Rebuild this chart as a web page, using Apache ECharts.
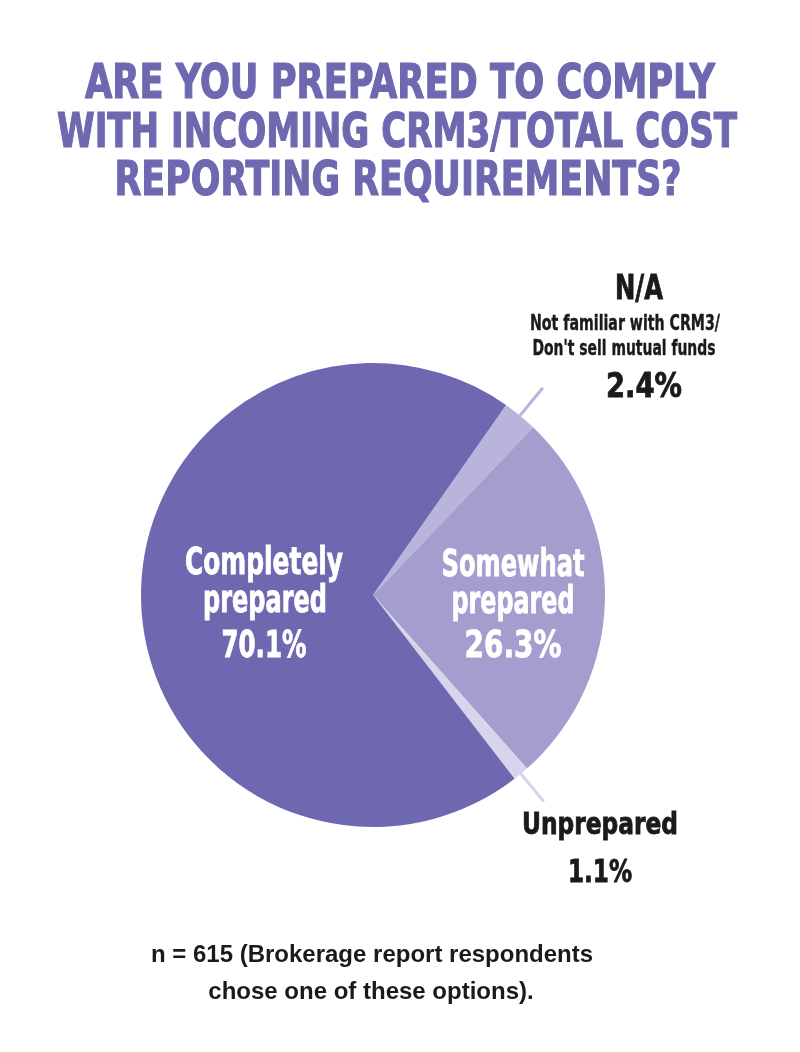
<!DOCTYPE html>
<html>
<head>
<meta charset="utf-8">
<script src="https://cdn.jsdelivr.net/npm/echarts@6/dist/echarts.min.js"></script>
<style>
html, body { margin: 0; padding: 0; background: #ffffff; }
#container { width: 800px; height: 1052px; }
</style>
</head>
<body>
<div id="container"></div>
<script type="text/javascript">
// data
var categories = ['N/A', 'Somewhat prepared', 'Unprepared', 'Completely prepared'];
var shares = [2.4, 26.3, 1.1, 70.1];
var sliceColors = ['#b9b4dc', '#a49ecf', '#d7d4ec', '#6e68b0'];
var titleLines = ['ARE YOU PREPARED TO COMPLY', 'WITH INCOMING CRM3/TOTAL COST', 'REPORTING REQUIREMENTS?'];
var naNote = ['Not familiar with CRM3/', "Don't sell mutual funds"];
var footLines = ['n = 615 (Brokerage report respondents', 'chose one of these options).'];

var condensed = '"DejaVu Sans Condensed", "Liberation Sans Narrow", sans-serif';
var plain = '"Liberation Sans", Arial, sans-serif';
var purple = '#6e68b0';
var ink = '#1a1a1a';

var dom = document.getElementById('container');
var myChart = echarts.init(dom);

// the reference face is a tight, heavy condensed one, so texts get squeezed to
// their width and thickened a little with a stroke of their own colour
var measureCtx = document.createElement('canvas').getContext('2d');
var graphics = [];
function addText(txt, cx, cy, size, width, color, family, weight) {
    var font = 'bold ' + size + 'px ' + (family || condensed);
    var sx = 1;
    if (width) {
        measureCtx.font = font;
        sx = width / measureCtx.measureText(txt).width;
    }
    graphics.push({
        type: 'text',
        x: cx, y: cy,
        scaleX: sx,
        z: 100,
        silent: true,
        style: {
            text: txt,
            fill: color || ink,
            stroke: color || ink,
            lineWidth: weight == null ? 0.8 : weight,
            font: font,
            align: 'center',
            verticalAlign: 'middle'
        }
    });
}
function pct(v) { return v.toFixed(1) + '%'; }

// title
addText(titleLines[0], 400, 86, 48, 630, purple, null, 1.2);
addText(titleLines[1], 397, 135, 48, 680, purple, null, 1.2);
addText(titleLines[2], 398, 183, 48, 567, purple, null, 1.2);

// labels inside the big slices
var w3 = categories[3].split(' ');
addText(w3[0], 264, 564, 37, 158, '#ffffff');
addText(w3[1], 265, 602, 37, 124, '#ffffff');
addText(pct(shares[3]), 264, 647, 37, 85, '#ffffff');
var w1 = categories[1].split(' ');
addText(w1[0], 513, 566, 37, 143, '#ffffff');
addText(w1[1], 513, 603, 37, 123, '#ffffff');
addText(pct(shares[1]), 513, 647, 37, 97, '#ffffff');

// labels outside the small slices
addText(categories[0], 639, 290, 33, 48);
addText(naNote[0], 625, 325, 21, 190, ink, null, 0.4);
addText(naNote[1], 624, 350, 21, 183, ink, null, 0.4);
addText(pct(shares[0]), 644, 388, 33, 76);
addText(categories[2], 600, 826, 31, 156);
addText(pct(shares[2]), 600, 874, 32, 64);

// footnote
addText(footLines[0], 372, 955, 24, null, ink, plain, 0);
addText(footLines[1], 371, 992, 24, null, ink, plain, 0);

var pieData = [];
for (var i = 0; i < categories.length; i++) {
    var small = (i == 0 || i == 2);
    pieData.push({
        name: categories[i],
        value: shares[i],
        itemStyle: { color: sliceColors[i] },
        // small slices only carry a short leader line
        label: { show: small, position: 'outside', formatter: ' ' },
        labelLine: { show: small, length: 36, length2: 0,
                     lineStyle: { color: sliceColors[i], width: 3 } }
    });
}

option = {
    animation: false,
    series: [
        {
            type: 'pie',
            center: [373, 595],
            radius: 232,
            startAngle: 55,
            clockwise: true,
            avoidLabelOverlap: false,
            itemStyle: { borderWidth: 0 },
            emphasis: { disabled: true },
            data: pieData
        }
    ],
    graphic: graphics
};

if (option && typeof option === "object") {
    myChart.setOption(option, true);
}
</script>
</body>
</html>
